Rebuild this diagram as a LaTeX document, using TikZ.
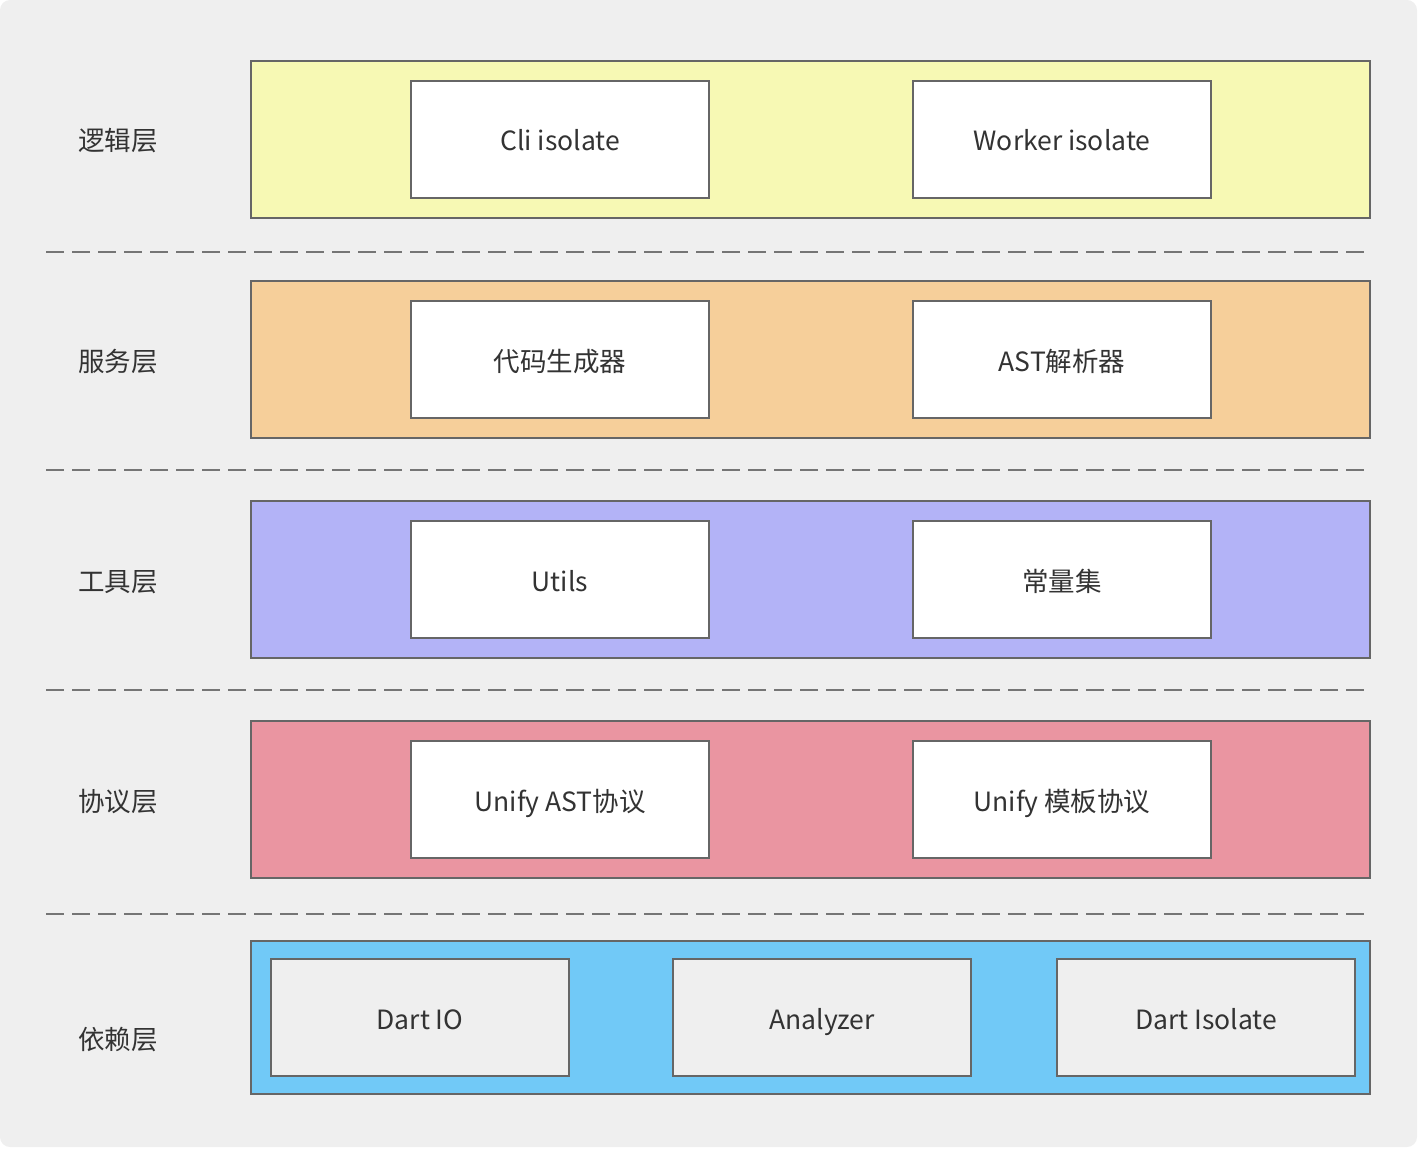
\documentclass[tikz,border=0pt]{standalone}
\usepackage{fontspec}
\setmainfont{Noto Sans CJK SC}
\definecolor{bggray}{HTML}{EFEFEF}
\definecolor{edgegray}{HTML}{666666}
\definecolor{txtgray}{HTML}{333333}
\definecolor{logicyellow}{HTML}{F7F9B4}
\definecolor{serviceorange}{HTML}{F6CF9A}
\definecolor{toolpurple}{HTML}{B3B3F7}
\definecolor{protopink}{HTML}{EA95A1}
\definecolor{depblue}{HTML}{71C9F7}
\begin{document}
\begin{tikzpicture}[x=1pt,y=-1pt,
    font=\fontsize{26.5}{30}\selectfont,text=txtgray,
    layerbox/.style={draw=edgegray,line width=2pt,minimum width=1119pt,minimum height=157pt,inner sep=0pt},
    modbox/.style={draw=edgegray,line width=2pt,fill=white,minimum width=298pt,minimum height=117pt,
      inner sep=0pt,text height=23pt,text depth=0pt},
    depbox/.style={modbox,fill=bggray},
    sepline/.style={draw=edgegray!90,line width=2pt,dash pattern=on 18pt off 8pt},
    layername/.style={inner sep=0pt,text height=23pt,text depth=0pt}]
  \useasboundingbox (0,0) rectangle (1420,1150);
  \fill[bggray,rounded corners=10pt] (0,0) rectangle (1417,1147);
  % layers
  \node[layerbox,fill=logicyellow] (logic) at (810.5,139.5) {};
  \node[layerbox,fill=serviceorange] (service) at (810.5,359.5) {};
  \node[layerbox,fill=toolpurple] (tool) at (810.5,579.5) {};
  \node[layerbox,fill=protopink] (proto) at (810.5,799.5) {};
  \node[layerbox,fill=depblue,minimum height=153pt] (dep) at (810.5,1017.5) {};
  % layer names
  \node[layername] (logicname) at (118,139.5) {逻辑层};
  \node[layername] (servicename) at (118,359.5) {服务层};
  \node[layername] (toolname) at (118,579.5) {工具层};
  \node[layername] (protoname) at (118,799.5) {协议层};
  \node[layername] (depname) at (118,1037.5) {依赖层};
  % modules
  \node[modbox] (cli) at (560,139.5) {Cli isolate};
  \node[modbox] (worker) at (1062,139.5) {Worker isolate};
  \node[modbox] (codegen) at (560,359.5) {代码生成器};
  \node[modbox] (astparser) at (1062,359.5) {AST解析器};
  \node[modbox] (utils) at (560,579.5) {Utils};
  \node[modbox] (consts) at (1062,579.5) {常量集};
  \node[modbox] (astproto) at (560,799.5) {Unify AST协议};
  \node[modbox] (tplproto) at (1062,799.5) {Unify 模板协议};
  \node[depbox] (dartio) at (420,1017.5) {Dart IO};
  \node[depbox] (analyzer) at (822,1017.5) {Analyzer};
  \node[depbox] (dartiso) at (1206,1017.5) {Dart Isolate};
  % separators
  \foreach \y in {252,470,690,914}
    \draw[sepline] (46,\y) -- (1366,\y);
\end{tikzpicture}
\end{document}
